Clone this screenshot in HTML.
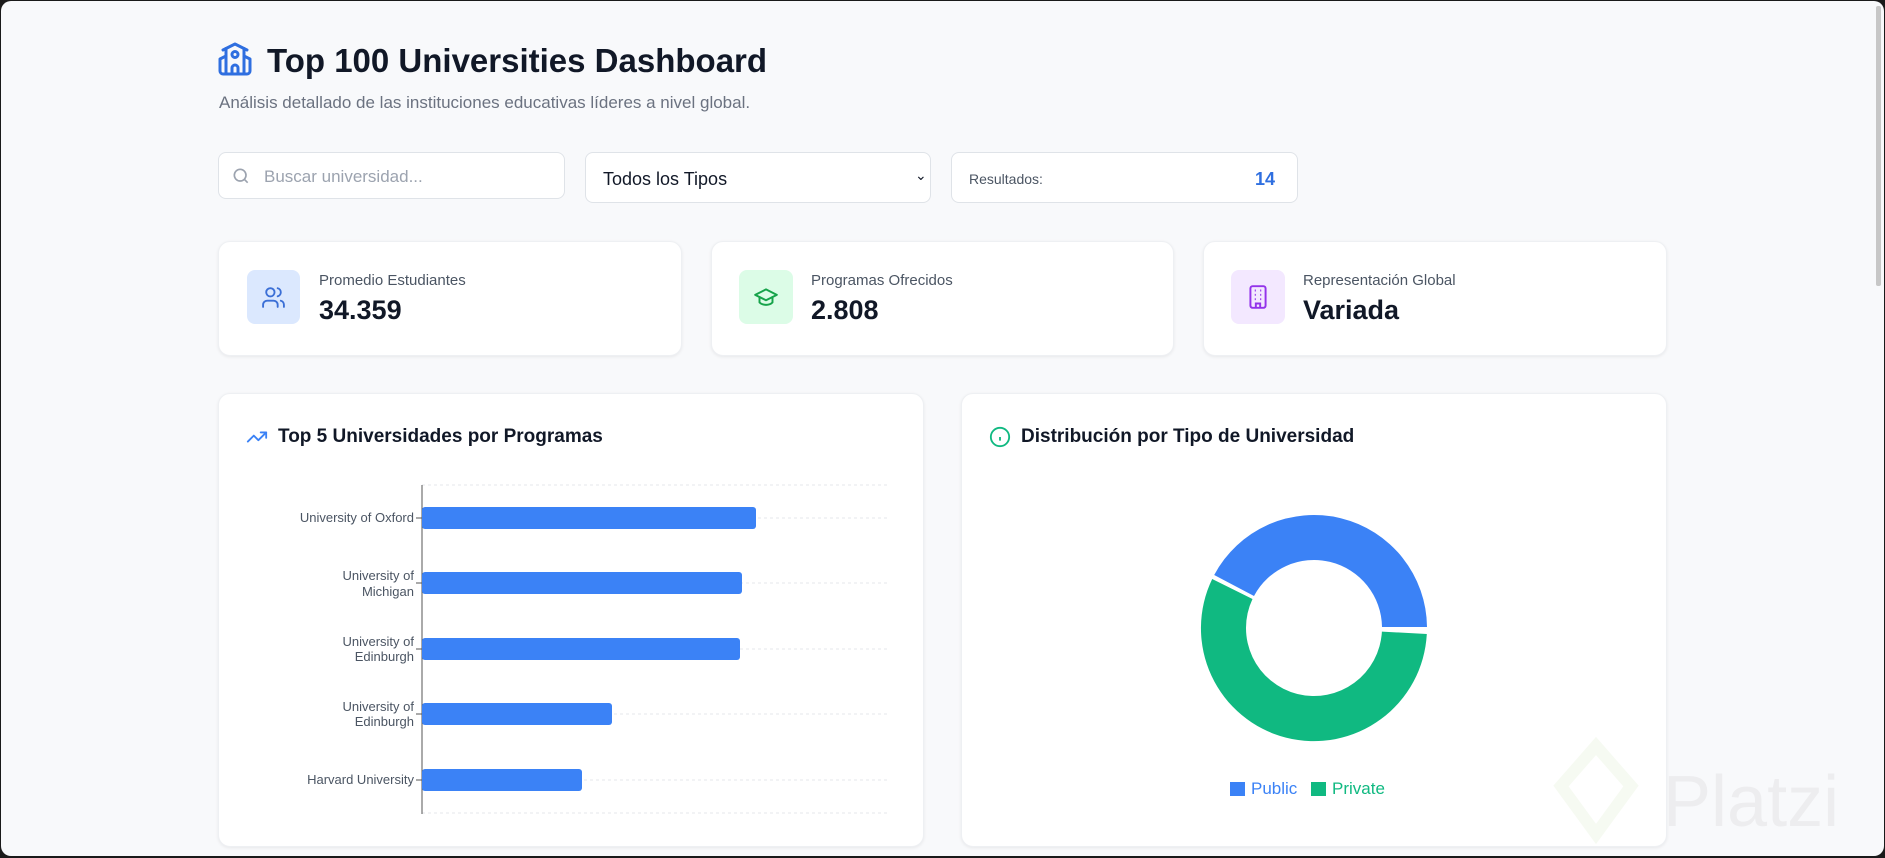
<!DOCTYPE html>
<html><head><meta charset="utf-8"><style>
*{box-sizing:border-box;margin:0;padding:0}
body{width:1885px;height:858px;background:#1a1a1a;font-family:"Liberation Sans",sans-serif;overflow:hidden;position:relative}
.win{position:absolute;left:1px;top:1px;width:1883px;height:855px;background:#f8f9fb;border-radius:10px;overflow:hidden}
.abs{position:absolute}
.card{position:absolute;background:#fff;border-radius:12px;box-shadow:0 1px 3px rgba(0,0,0,.07);border:1px solid #eef0f3}
.inp{position:absolute;background:#fff;border:1px solid #dfe3e8;border-radius:8px}
</style></head><body><div class="win">
<svg class="abs" style="left:216px;top:40px" width="36" height="36" viewBox="0 0 24 24" fill="none" stroke="#2f6fe0" stroke-width="2" stroke-linecap="round" stroke-linejoin="round"><path d="M14 22v-4a2 2 0 1 0-4 0v4"/><path d="m18 10 4 2v8a2 2 0 0 1-2 2H4a2 2 0 0 1-2-2v-8l4-2"/><path d="M18 5v17"/><path d="m4 6 8-4 8 4"/><path d="M6 5v17"/><circle cx="12" cy="9" r="2"/></svg>
<div class="abs" style="left:266px;top:41px;font-size:33px;font-weight:bold;color:#111827">Top 100 Universities Dashboard</div>
<div class="abs" style="left:218px;top:92px;font-size:17px;color:#6b7280">Análisis detallado de las instituciones educativas líderes a nivel global.</div>

<div class="inp" style="left:217px;top:151px;width:347px;height:47px"></div>
<svg class="abs" style="left:230px;top:165px" width="20" height="20" viewBox="0 0 24 24" fill="none" stroke="#9ca3af" stroke-width="2"><circle cx="11" cy="11" r="7"/><path d="m20 20-4-4"/></svg>
<div class="abs" style="left:263px;top:166px;font-size:17px;color:#9ca3af">Buscar universidad...</div>
<div class="inp" style="left:584px;top:151px;width:346px;height:51px"></div>
<div class="abs" style="left:602px;top:168px;font-size:18px;color:#111827">Todos los Tipos</div>
<div class="abs" style="left:914px;top:166px;font-size:14px;color:#111827">⌄</div>
<div class="inp" style="left:950px;top:151px;width:347px;height:51px"></div>
<div class="abs" style="left:968px;top:170px;font-size:14px;color:#4b5563">Resultados:</div>
<div class="abs" style="left:1254px;top:168px;font-size:18px;font-weight:bold;color:#2f6fe0">14</div>

<div class="card" style="left:217px;top:240px;width:464px;height:115px"></div>
<div class="abs" style="left:246px;top:269px;width:53px;height:54px;background:#dbe8fe;border-radius:8px"></div>
<svg class="abs" style="left:260px;top:284px" width="25" height="25" viewBox="0 0 24 24" fill="none" stroke="#3b6fd6" stroke-width="1.8" stroke-linecap="round"><path d="M16 21v-2a4 4 0 0 0-4-4H6a4 4 0 0 0-4 4v2"/><circle cx="9" cy="7" r="4"/><path d="M22 21v-2a4 4 0 0 0-3-3.87M16 3.13a4 4 0 0 1 0 7.75"/></svg>
<div class="abs" style="left:318px;top:271px;font-size:15px;color:#4b5563">Promedio Estudiantes</div>
<div class="abs" style="left:318px;top:294px;font-size:27px;font-weight:bold;color:#111827">34.359</div>

<div class="card" style="left:710px;top:240px;width:463px;height:115px"></div>
<div class="abs" style="left:738px;top:269px;width:54px;height:54px;background:#dcfce7;border-radius:8px"></div>
<svg class="abs" style="left:752px;top:283px" width="26" height="26" viewBox="0 0 24 24" fill="none" stroke="#16a34a" stroke-width="1.8" stroke-linecap="round" stroke-linejoin="round"><path d="M22 10 12 5 2 10l10 5 10-5z"/><path d="M6 12v5c3 3 9 3 12 0v-5"/></svg>
<div class="abs" style="left:810px;top:271px;font-size:15px;color:#4b5563">Programas Ofrecidos</div>
<div class="abs" style="left:810px;top:294px;font-size:27px;font-weight:bold;color:#111827">2.808</div>

<div class="card" style="left:1202px;top:240px;width:464px;height:115px"></div>
<div class="abs" style="left:1230px;top:269px;width:54px;height:54px;background:#f3e8ff;border-radius:8px"></div>
<svg class="abs" style="left:1244px;top:283px" width="26" height="26" viewBox="0 0 24 24" fill="none" stroke="#9333ea" stroke-width="1.8"><rect x="5" y="2" width="14" height="20" rx="2"/><path d="M9 6h1M14 6h1M9 10h1M14 10h1M9 14h1M14 14h1M10 22v-4h4v4"/></svg>
<div class="abs" style="left:1302px;top:271px;font-size:15px;color:#4b5563">Representación Global</div>
<div class="abs" style="left:1302px;top:294px;font-size:27px;font-weight:bold;color:#111827">Variada</div>

<div class="card" style="left:217px;top:392px;width:706px;height:454px"></div>
<svg class="abs" style="left:245px;top:425px" width="22" height="22" viewBox="0 0 24 24" fill="none" stroke="#3b82f6" stroke-width="2" stroke-linecap="round" stroke-linejoin="round"><path d="m22 7-8.5 8.5-5-5L2 17"/><path d="M16 7h6v6"/></svg>
<div class="abs" style="left:277px;top:425px;font-size:19px;font-weight:bold;color:#111827">Top 5 Universidades por Programas</div>
<svg class="abs" style="left:0;top:0" width="940" height="858" font-family="Liberation Sans, sans-serif" font-size="13" fill="#4b5563">
<g stroke="#e5e7eb" stroke-dasharray="3 3"><line x1="421" y1="484" x2="886" y2="484"/><line x1="421" y1="517" x2="886" y2="517"/><line x1="421" y1="582" x2="886" y2="582"/><line x1="421" y1="648" x2="886" y2="648"/><line x1="421" y1="713" x2="886" y2="713"/><line x1="421" y1="779" x2="886" y2="779"/><line x1="421" y1="812" x2="886" y2="812"/></g>
<line x1="421" y1="484" x2="421" y2="813" stroke="#555"/>
<g fill="#3b82f6"><rect x="421" y="506" width="334" height="22" rx="3"/><rect x="421" y="571" width="320" height="22" rx="3"/><rect x="421" y="637" width="318" height="22" rx="3"/><rect x="421" y="702" width="190" height="22" rx="3"/><rect x="421" y="768" width="160" height="22" rx="3"/></g>
<g stroke="#555"><line x1="415" y1="517" x2="421" y2="517"/><line x1="415" y1="582" x2="421" y2="582"/><line x1="415" y1="648" x2="421" y2="648"/><line x1="415" y1="713" x2="421" y2="713"/><line x1="415" y1="779" x2="421" y2="779"/></g>
<g text-anchor="end"><text x="413" y="521">University of Oxford</text><text x="413" y="579">University of</text><text x="413" y="595">Michigan</text><text x="413" y="645">University of</text><text x="413" y="660">Edinburgh</text><text x="413" y="710">University of</text><text x="413" y="725">Edinburgh</text><text x="413" y="783">Harvard University</text></g>
</svg>

<div class="card" style="left:960px;top:392px;width:706px;height:454px"></div>
<svg class="abs" style="left:988px;top:425px" width="22" height="22" viewBox="0 0 24 24" fill="none" stroke="#10b981" stroke-width="2"><circle cx="12" cy="12" r="10"/><path d="M12 16v-4M12 8h.01"/></svg>
<div class="abs" style="left:1020px;top:425px;font-size:19px;font-weight:bold;color:#111827">Distribución por Tipo de Universidad</div>
<svg class="abs" style="left:0;top:0" width="1885" height="858">
<g transform="translate(1313,627)">
<path d="M-99.8,-53 A113,113 0 0 1 113,-1 L68,-1 A68,68 0 0 0 -60,-32 Z" fill="#3b82f6"/>
<path d="M112.8,6 A113,113 0 1 1 -101.8,-49 L-61.5,-29 A68,68 0 1 0 67.9,3.6 Z" fill="#10b981"/>
</g>
<rect x="1229" y="781" width="15" height="14" fill="#3b82f6"/>
<text x="1250" y="793" font-family="Liberation Sans, sans-serif" font-size="17" fill="#3b82f6">Public</text>
<rect x="1310" y="781" width="15" height="14" fill="#10b981"/>
<text x="1331" y="793" font-family="Liberation Sans, sans-serif" font-size="17" fill="#10b981">Private</text>
<path d="M1595 745 l35 40 -35 48 -35 -48z" fill="none" stroke="#f2f8ec" stroke-width="12" opacity=".7"/>
<text x="1662" y="825" font-family="Liberation Sans, sans-serif" font-size="72" fill="#ededef">Platzi</text>
<rect x="1875" y="5" width="5" height="280" rx="2" fill="#c7c7c7"/>
</svg>
</div></body></html>
